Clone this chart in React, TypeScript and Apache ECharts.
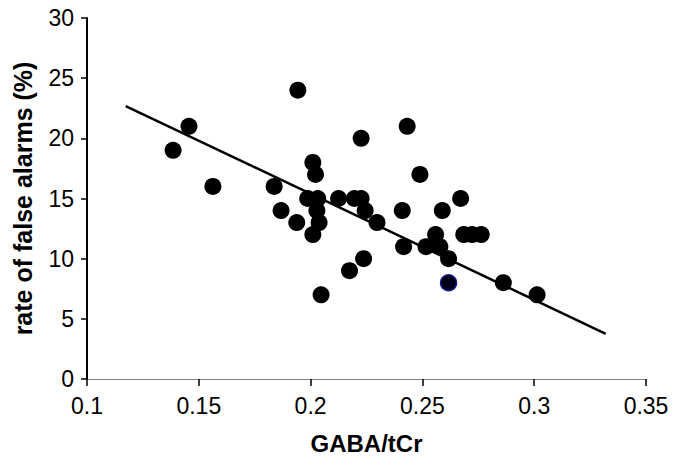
import React, { useEffect, useRef } from "react";
import * as echarts from "echarts";

const gabaTcr = [
  0.1385, 0.1456, 0.1563, 0.1837, 0.1868, 0.1938, 0.1943, 0.1987, 0.201, 0.201,
  0.2022, 0.2028, 0.2032, 0.2038, 0.2047, 0.2125, 0.2174, 0.2196, 0.2226, 0.2226,
  0.2237, 0.2244, 0.2297, 0.241, 0.2416, 0.2432, 0.2489, 0.2516, 0.2559, 0.2578,
  0.2589, 0.2617, 0.2671, 0.2685, 0.2722, 0.2763, 0.2862, 0.3013,
];
const falseAlarms = [
  19, 21, 16, 16, 14, 13, 24, 15, 18, 12,
  17, 14, 15, 13, 7, 15, 9, 15, 15, 20,
  10, 14, 13, 14, 11, 21, 17, 11, 12, 11,
  14, 10, 15, 12, 12, 12, 8, 7,
];
const highlightX = [0.2617];
const highlightY = [8];
const trendX = [0.1173, 0.332];
const trendY = [22.68, 3.76];
const xTicks = { min: 0.1, max: 0.35, interval: 0.05 };
const yTicks = { min: 0, max: 30, interval: 5 };

export default function App() {
  const ref = useRef<HTMLDivElement>(null);
  useEffect(() => {
    if (!ref.current) return;
    const chart = echarts.init(ref.current, undefined, { renderer: "svg" });
    const font = "Liberation Sans, Arial, sans-serif";
    chart.setOption({
      animation: false,
      backgroundColor: "#ffffff",
      grid: { left: 87, right: 33, top: 18, bottom: 87 },
      xAxis: {
        type: "value",
        min: xTicks.min,
        max: xTicks.max,
        interval: xTicks.interval,
        name: "GABA/tCr",
        nameLocation: "middle",
        nameGap: 52,
        nameTextStyle: { fontFamily: font, fontSize: 24, fontWeight: "bold", color: "#000" },
        axisLine: { show: true, onZero: false, lineStyle: { color: "#808080", width: 1 } },
        axisTick: { show: true, length: 7, lineStyle: { color: "#000", width: 1.5 } },
        axisLabel: { fontFamily: font, fontSize: 23, color: "#000", margin: 15 },
        splitLine: { show: false },
      },
      yAxis: {
        type: "value",
        min: yTicks.min,
        max: yTicks.max,
        interval: yTicks.interval,
        name: "rate of false alarms (%)",
        nameLocation: "middle",
        nameGap: 52,
        nameTextStyle: { fontFamily: font, fontSize: 25, fontWeight: "bold", color: "#000" },
        axisLine: { show: true, lineStyle: { color: "#000", width: 2 } },
        axisTick: { show: true, length: 6, lineStyle: { color: "#000", width: 1.5 } },
        axisLabel: { fontFamily: font, fontSize: 23, color: "#000", margin: 13 },
        splitLine: { show: false },
      },
      series: [
        {
          type: "line",
          data: trendX.map((x, i) => [x, trendY[i]]),
          symbol: "none",
          lineStyle: { color: "#000", width: 2.5 },
          z: 3,
        },
        {
          type: "scatter",
          data: gabaTcr.map((x, i) => [x, falseAlarms[i]]),
          symbol: "circle",
          symbolSize: 17,
          itemStyle: { color: "#000", opacity: 1 },
          z: 2,
        },
        {
          type: "scatter",
          data: highlightX.map((x, i) => [x, highlightY[i]]),
          symbol: "circle",
          symbolSize: 16,
          itemStyle: { color: "#000018", borderColor: "#1a1a90", borderWidth: 1.5, opacity: 1 },
          z: 2,
        },
      ],
    });
    return () => chart.dispose();
  }, []);
  return <div ref={ref} style={{ width: 679, height: 466, position: "absolute", left: 0, top: 0 }} />;
}
